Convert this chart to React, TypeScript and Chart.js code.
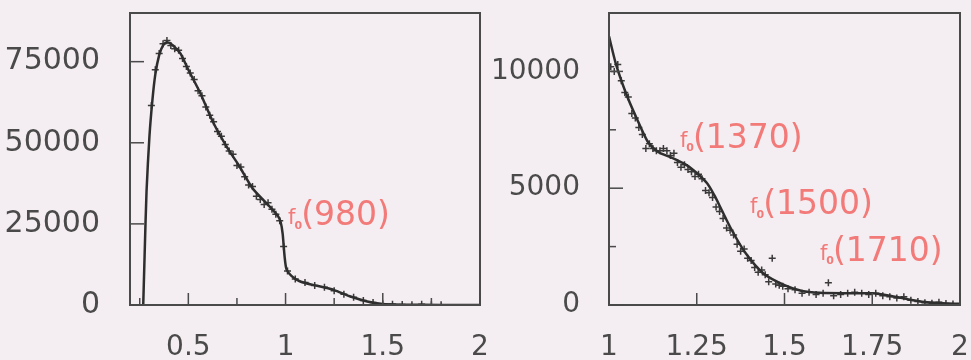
import React, { useEffect, useRef } from 'react';
import { Chart, registerables } from 'chart.js';

Chart.register(...registerables);

const FONT = 'DejaVu Sans';
const BG = '#f4edf1';
const INK = '#2e2e2e';
const TICK_COLOR = '#4a4a4a';
const NOTE_COLOR = '#f27a78';

// ---------- left panel data ----------
const leftFitX = [0.268, 0.275, 0.285, 0.3, 0.315, 0.33, 0.35, 0.37, 0.39, 0.41, 0.43, 0.46, 0.5, 0.56, 0.63, 0.7, 0.76, 0.83, 0.9, 0.96, 0.975, 0.985, 0.995, 1.005, 1.03, 1.07, 1.14, 1.2, 1.25, 1.33, 1.42, 1.5, 1.6, 1.8, 2.0];
const leftFitY = [0, 15000, 35000, 52000, 63000, 71000, 77000, 80000, 81000, 80500, 79500, 77500, 72500, 65500, 56000, 48500, 43000, 36000, 31500, 27500, 25500, 22000, 15000, 11000, 9000, 7400, 6200, 5400, 4600, 2700, 1100, 300, 100, 30, 0];
const leftDataX = [0.31, 0.33, 0.35, 0.37, 0.39, 0.41, 0.43, 0.45, 0.47, 0.49, 0.51, 0.53, 0.55, 0.57, 0.59, 0.61, 0.63, 0.65, 0.67, 0.69, 0.71, 0.73, 0.75, 0.77, 0.79, 0.81, 0.83, 0.85, 0.87, 0.89, 0.91, 0.93, 0.95, 0.97, 0.99, 1.01, 1.05, 1.1, 1.15, 1.2, 1.25, 1.3, 1.35, 1.4, 1.45, 1.5, 1.55, 1.6, 1.65, 1.7, 1.75, 1.8];
const leftDataY = [61500, 72500, 77500, 80500, 81500, 80000, 79000, 78500, 76000, 73500, 71500, 69500, 66000, 64500, 61000, 58500, 56500, 53500, 52000, 49500, 47500, 46500, 43000, 42500, 39500, 37000, 36500, 33500, 32500, 31000, 31500, 29500, 28000, 26000, 18000, 10500, 8000, 6900, 6000, 5500, 4400, 3300, 2400, 1400, 800, 400, 200, 150, 100, 200, 50, 100];
const leftXTicks = [0.5, 1, 1.5, 2];
const leftXTickLabels = ['0.5', '1', '1.5', '2'];
const leftXMinor = [0.25, 0.75, 1.25, 1.75];
const leftYTicks = [0, 25000, 50000, 75000];
const leftYMinor: number[] = [];
const leftNoteText = ['(980)'];
const leftNoteX = [1.013];
const leftNoteY = [27200];

// ---------- right panel data ----------
const rightFitX = [1.0, 1.02, 1.05, 1.08, 1.11, 1.14, 1.18, 1.22, 1.25, 1.28, 1.3, 1.32, 1.35, 1.39, 1.44, 1.5, 1.55, 1.6, 1.68, 1.75, 1.8, 1.85, 1.9, 1.95, 2.0];
const rightFitY = [11500, 10300, 9000, 7950, 7000, 6550, 6300, 6000, 5650, 5200, 4700, 4100, 3200, 2200, 1350, 850, 600, 520, 500, 500, 400, 250, 130, 80, 50];
const rightDataX = [1.005, 1.015, 1.025, 1.035, 1.045, 1.055, 1.065, 1.075, 1.085, 1.095, 1.105, 1.115, 1.125, 1.135, 1.145, 1.155, 1.165, 1.175, 1.185, 1.195, 1.205, 1.215, 1.225, 1.235, 1.245, 1.255, 1.265, 1.275, 1.285, 1.295, 1.305, 1.315, 1.325, 1.335, 1.345, 1.355, 1.365, 1.375, 1.385, 1.395, 1.405, 1.415, 1.425, 1.435, 1.445, 1.455, 1.465, 1.475, 1.485, 1.495, 1.51, 1.53, 1.55, 1.57, 1.59, 1.61, 1.625, 1.64, 1.66, 1.68, 1.7, 1.72, 1.74, 1.76, 1.78, 1.8, 1.82, 1.84, 1.86, 1.88, 1.9, 1.92, 1.94, 1.96, 1.98];
const rightDataY = [10200, 10000, 10300, 9600, 9100, 8900, 8200, 8000, 7600, 7300, 6700, 6900, 6700, 6600, 6600, 6700, 6600, 6400, 6500, 6100, 5900, 6000, 5800, 5700, 5500, 5600, 5400, 4900, 4800, 4600, 4200, 4000, 3700, 3300, 3200, 3000, 2600, 2300, 2400, 2000, 1900, 1600, 1400, 1500, 1300, 1000, 2000, 900, 850, 800, 700, 650, 500, 550, 450, 500, 950, 400, 450, 500, 550, 500, 450, 500, 400, 350, 300, 350, 200, 150, 100, 80, 120, 60, 40];
const rightXTicks = [1, 1.25, 1.5, 1.75, 2];
const rightXTickLabels = ['1', '1.25', '1.5', '1.75', '2'];
const rightXMinor: number[] = [];
const rightYTicks = [0, 5000, 10000];
const rightYMinor = [2500, 7500];
const rightNoteText = ['(1370)', '(1500)', '(1710)'];
const rightNoteX = [1.202, 1.402, 1.601];
const rightNoteY = [7100, 4250, 2250];

type PanelProps = {
  left: number;
  width: number;
  yAxisWidth: number;
  padRight: number;
  yLabelPad: number;
  yFontSize: number;
  xMin: number;
  xMax: number;
  yMax: number;
  fitX: number[];
  fitY: number[];
  dataX: number[];
  dataY: number[];
  xTicks: number[];
  xTickLabels: string[];
  xMinor: number[];
  yTicks: number[];
  yMinor: number[];
  noteText: string[];
  noteX: number[];
  noteY: number[];
};

function Panel(p: PanelProps) {
  const ref = useRef<HTMLCanvasElement | null>(null);

  useEffect(() => {
    if (!ref.current) return;
    const framePlugin = {
      id: 'frameTicksNotes',
      afterDraw(chart: any) {
        const { ctx, chartArea: a, scales } = chart;
        const xs = scales.x;
        const ys = scales.y;
        ctx.save();
        ctx.strokeStyle = '#4a4a4a';
        ctx.lineWidth = 2;
        ctx.strokeRect(a.left, a.top, a.right - a.left, a.bottom - a.top);
        ctx.lineWidth = 1.5;
        const vLine = (v: number, len: number) => {
          const px = xs.getPixelForValue(v);
          ctx.beginPath();
          ctx.moveTo(px, a.bottom);
          ctx.lineTo(px, a.bottom - len);
          ctx.stroke();
        };
        const hLine = (v: number, len: number) => {
          const py = ys.getPixelForValue(v);
          ctx.beginPath();
          ctx.moveTo(a.left, py);
          ctx.lineTo(a.left + len, py);
          ctx.stroke();
        };
        p.xTicks.forEach((v) => vLine(v, 12));
        p.xMinor.forEach((v) => vLine(v, 7));
        p.yTicks.forEach((v) => hLine(v, 14));
        p.yMinor.forEach((v) => hLine(v, 7));

        ctx.fillStyle = NOTE_COLOR;
        ctx.textBaseline = 'middle';
        ctx.textAlign = 'left';
        p.noteText.forEach((t, i) => {
          let x = xs.getPixelForValue(p.noteX[i]);
          const y = ys.getPixelForValue(p.noteY[i]);
          ctx.font = `21px "${FONT}"`;
          ctx.fillText('f', x, y + 2);
          x += ctx.measureText('f').width - 1;
          ctx.font = `bold 11px "${FONT}"`;
          ctx.fillText('0', x, y + 9);
          x += ctx.measureText('0').width - 1;
          ctx.font = `33px "${FONT}"`;
          ctx.fillText(t, x, y);
        });
        ctx.restore();
      },
    };

    const chart = new Chart(ref.current, {
      type: 'line',
      data: {
        datasets: [
          {
            type: 'line',
            data: p.fitX.map((x, i) => ({ x, y: p.fitY[i] })),
            borderColor: INK,
            borderWidth: 2.5,
            pointRadius: 0,
            tension: 0.25,
            fill: false,
            order: 1,
          },
          {
            type: 'scatter',
            data: p.dataX.map((x, i) => ({ x, y: p.dataY[i] })),
            showLine: false,
            pointStyle: 'cross',
            pointRadius: 3.5,
            borderColor: '#3a3a3a',
            backgroundColor: '#3a3a3a',
            borderWidth: 1.5,
            order: 2,
          },
        ],
      },
      options: {
        responsive: false,
        animation: false,
        layout: { padding: { left: 0, right: p.padRight, top: 13, bottom: 0 } },
        plugins: {
          legend: { display: false },
          tooltip: { enabled: false },
        },
        scales: {
          x: {
            type: 'linear',
            min: p.xMin,
            max: p.xMax,
            grid: { display: false, drawTicks: false },
            border: { display: false },
            afterBuildTicks: (s: any) => {
              s.ticks = p.xTicks.map((v) => ({ value: v }));
            },
            afterFit: (s: any) => {
              s.height = 55;
              s.paddingLeft = 0;
              s.paddingRight = 0;
            },
            ticks: {
              autoSkip: false,
              maxRotation: 0,
              padding: 26,
              color: TICK_COLOR,
              font: { family: FONT, size: 28 },
              callback: (v: any) => {
                const i = p.xTicks.indexOf(Number(v));
                return i >= 0 ? p.xTickLabels[i] : '';
              },
            },
          },
          y: {
            type: 'linear',
            min: 0,
            max: p.yMax,
            grid: { display: false, drawTicks: false },
            border: { display: false },
            afterBuildTicks: (s: any) => {
              s.ticks = p.yTicks.map((v) => ({ value: v }));
            },
            afterFit: (s: any) => {
              s.width = p.yAxisWidth;
              s.paddingTop = 0;
              s.paddingBottom = 0;
            },
            ticks: {
              padding: p.yLabelPad,
              color: TICK_COLOR,
              font: { family: FONT, size: p.yFontSize },
              callback: (v: any) => String(v),
            },
          },
        },
      },
      plugins: [framePlugin],
    } as any);
    return () => chart.destroy();
  }, []);

  return (
    <canvas
      ref={ref}
      width={p.width}
      height={360}
      style={{ position: 'absolute', left: p.left, top: 0, width: p.width, height: 360 }}
    />
  );
}

export default function App() {
  return (
    <div style={{ position: 'absolute', left: 0, top: 0, width: 971, height: 360, background: BG, overflow: 'hidden' }}>
      <Panel
        left={0}
        width={490}
        yAxisWidth={130}
        padRight={10}
        yLabelPad={30}
        yFontSize={30}
        xMin={0.2}
        xMax={2}
        yMax={90000}
        fitX={leftFitX}
        fitY={leftFitY}
        dataX={leftDataX}
        dataY={leftDataY}
        xTicks={leftXTicks}
        xTickLabels={leftXTickLabels}
        xMinor={leftXMinor}
        yTicks={leftYTicks}
        yMinor={leftYMinor}
        noteText={leftNoteText}
        noteX={leftNoteX}
        noteY={leftNoteY}
      />
      <Panel
        left={490}
        width={481}
        yAxisWidth={119}
        padRight={11}
        yLabelPad={29}
        yFontSize={28}
        xMin={1}
        xMax={2}
        yMax={12500}
        fitX={rightFitX}
        fitY={rightFitY}
        dataX={rightDataX}
        dataY={rightDataY}
        xTicks={rightXTicks}
        xTickLabels={rightXTickLabels}
        xMinor={rightXMinor}
        yTicks={rightYTicks}
        yMinor={rightYMinor}
        noteText={rightNoteText}
        noteX={rightNoteX}
        noteY={rightNoteY}
      />
    </div>
  );
}
